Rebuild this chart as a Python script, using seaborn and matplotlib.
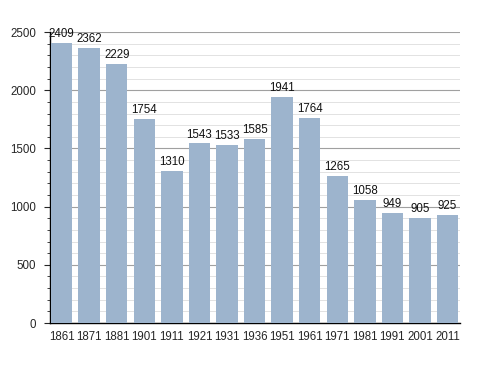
import matplotlib
matplotlib.use("Agg")
import matplotlib.pyplot as plt
from matplotlib.ticker import MultipleLocator
import pandas as pd
import seaborn as sns

years = ["1861", "1871", "1881", "1901", "1911", "1921", "1931", "1936",
         "1951", "1961", "1971", "1981", "1991", "2001", "2011"]
population = [2409, 2362, 2229, 1754, 1310, 1543, 1533, 1585,
              1941, 1764, 1265, 1058, 949, 905, 925]

df = pd.DataFrame({"year": years, "pop": population})

sns.set_style("white")
plt.rcParams["font.family"] = ["Liberation Sans", "DejaVu Sans"]

fig = plt.figure(figsize=(4.88, 3.73), dpi=100)
ax = fig.add_axes([0.1025, 0.134, 0.84, 0.78])

sns.barplot(data=df, x="year", y="pop", color="#9db4cd", width=0.78,
            saturation=1, linewidth=0, edgecolor="none", ax=ax, zorder=3)

for i, v in enumerate(population):
    ax.text(i, v + 25, str(v), ha="center", va="bottom", fontsize=8.3,
            color="#111111", zorder=4)

ax.set_ylim(0, 2500)
ax.set_xlim(-0.42, 14.45)
ax.yaxis.set_major_locator(MultipleLocator(500))
ax.yaxis.set_minor_locator(MultipleLocator(100))
ax.grid(which="major", axis="y", color="#a0a0a0", linewidth=0.8, zorder=0)
ax.grid(which="minor", axis="y", color="#e2e2e2", linewidth=0.7, zorder=0)
ax.set_axisbelow(True)

for s in ["top", "right"]:
    ax.spines[s].set_visible(False)
ax.spines["left"].set_color("black")
ax.spines["bottom"].set_color("black")
ax.spines["left"].set_linewidth(1)
ax.spines["bottom"].set_linewidth(1)

ax.tick_params(axis="y", which="major", left=True, length=4, width=0.8,
               labelsize=8.3, pad=6)
ax.tick_params(axis="y", which="minor", left=True, length=2.5, width=0.6)
ax.tick_params(axis="x", bottom=False, labelsize=8.3, pad=2)
ax.set_xlabel("")
ax.set_ylabel("")

fig.savefig("out.png", dpi=100)
